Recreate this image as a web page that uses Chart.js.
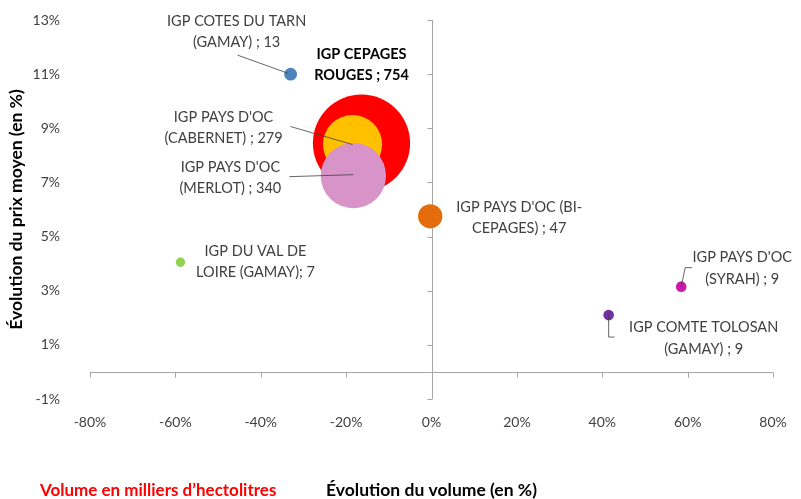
<!DOCTYPE html>
<html>
<head>
<meta charset="utf-8">
<script src="https://cdn.jsdelivr.net/npm/chart.js@4"></script>
<style>
html,body{margin:0;padding:0;background:#fff;}
#wrap{width:801px;height:499px;position:relative;}
</style>
</head>
<body>
<div id="wrap"><canvas id="c" width="801" height="499"></canvas></div>
<script>
// ---- data ----
const names = [
  ['IGP CEPAGES', 'ROUGES ; 754'],
  ['IGP PAYS D\'OC', '(CABERNET) ; 279'],
  ['IGP PAYS D\'OC', '(MERLOT) ; 340'],
  ['IGP COTES DU TARN', '(GAMAY) ; 13'],
  ['IGP PAYS D\'OC (BI-', 'CEPAGES) ; 47'],
  ['IGP DU VAL DE', 'LOIRE (GAMAY); 7'],
  ['IGP PAYS D\'OC', '(SYRAH) ; 9'],
  ['IGP COMTE TOLOSAN', '(GAMAY) ; 9']
];
const volumeChange = [-16.4, -18.5, -18.3, -33.0, -0.3, -58.8, 58.5, 41.5];   // % x
const priceChange  = [8.45, 8.4, 7.25, 11.0, 5.75, 4.05, 3.15, 2.1];         // % y
const volumes      = [754, 279, 340, 13, 47, 7, 9, 9];                        // milliers hl
const xTicks = [-80, -60, -40, -20, 0, 20, 40, 60, 80];
const yTicks = [-1, 1, 3, 5, 7, 9, 11, 13];

// ---- styles ----
const colors = ['#FF0000', '#FFC000', '#D893C8', '#4F81BD', '#E46C0A', '#92D050', '#C71BA8', '#7030A0'];
const FONT = 'Lato, "Open Sans", sans-serif';
// label placement relative to bubble centre: [dx, dyLine1, dyLine2, bold]
const labelPos = [
  [0, -89, -68, true],
  [-129, -27, -6, false],
  [-123, -8, 13, false],
  [-54, -53, -32, false],
  [89, -9, 12, false],
  [75, -11, 10, false],
  [61, -29, -7, false],
  [95, 12, 34, false]
];
// leader lines relative to bubble centre
const leaders = [
  null,
  [[-62, -18], [0, 0]],
  [[-64, 1], [0, -1]],
  [[-53, -19], [-3, -1]],
  null,
  null,
  [[11, -19], [4, -19], [0, 0]],
  [[0, 0], [0, 22], [6, 22]]
];

const points = volumeChange.map((x, i) => ({x: x, y: priceChange[i], v: volumes[i]}));

const crossAxes = {
  id: 'crossAxes',
  beforeDatasetsDraw(chart) {
    const {ctx, scales: {x, y}, chartArea: a} = chart;
    const x0 = Math.round(x.getPixelForValue(0)) + 0.5, y0 = Math.round(y.getPixelForValue(0)) + 0.5;
    ctx.save();
    ctx.strokeStyle = '#A6A6A6';
    ctx.lineWidth = 1;
    ctx.beginPath();
    ctx.moveTo(x0, a.top);
    ctx.lineTo(x0, a.bottom);
    yTicks.forEach(t => {
      const p = Math.round(y.getPixelForValue(t)) + 0.5;
      ctx.moveTo(x0 - 5, p);
      ctx.lineTo(x0, p);
    });
    ctx.moveTo(a.left, y0);
    ctx.lineTo(a.right, y0);
    xTicks.forEach(t => {
      const p = Math.round(x.getPixelForValue(t)) + 0.5;
      ctx.moveTo(p, y0);
      ctx.lineTo(p, y0 + 5);
    });
    ctx.stroke();
    ctx.restore();
  },
  afterDatasetsDraw(chart) {
    const {ctx} = chart;
    const meta = chart.getDatasetMeta(0);
    ctx.save();
    ctx.textAlign = 'center';
    ctx.textBaseline = 'middle';
    meta.data.forEach((el, i) => {
      const px = el.x, py = el.y;
      const lead = leaders[i];
      if (lead) {
        ctx.strokeStyle = '#404040';
        ctx.lineWidth = 0.8;
        ctx.beginPath();
        lead.forEach((p, j) => {
          if (j === 0) ctx.moveTo(px + p[0], py + p[1]);
          else ctx.lineTo(px + p[0], py + p[1]);
        });
        ctx.stroke();
      }
      const lp = labelPos[i];
      ctx.font = (lp[3] ? 'bold ' : '') + '14.5px ' + FONT;
      ctx.fillStyle = lp[3] ? '#000000' : '#404040';
      ctx.fillText(names[i][0], px + lp[0], py + lp[1]);
      ctx.fillText(names[i][1], px + lp[0], py + lp[2]);
    });
    // bubble-size note
    ctx.font = 'bold 17px ' + FONT;
    ctx.fillStyle = '#FF0000';
    ctx.textAlign = 'left';
    ctx.fillText('Volume en milliers d\u2019hectolitres', 40, 491);
    ctx.restore();
  }
};

new Chart(document.getElementById('c'), {
  type: 'bubble',
  data: {
    datasets: [{
      data: points,
      backgroundColor: colors,
      borderWidth: 0,
      radius: ctx => 1.77 * Math.sqrt(volumes[ctx.dataIndex]),
      hoverRadius: 0
    }]
  },
  options: {
    responsive: false,
    animation: false,
    devicePixelRatio: 1,
    layout: {autoPadding: false, padding: {top: 20, right: 28, left: 0, bottom: 0}},
    plugins: {legend: {display: false}, tooltip: {enabled: false}},
    scales: {
      x: {
        type: 'linear', min: -80, max: 80,
        grid: {display: false}, border: {display: false},
        afterFit: s => { s.height = 100; },
        afterBuildTicks: s => { s.ticks = xTicks.map(v => ({value: v})); },
        ticks: {
          padding: 7, color: '#404040',
          font: {family: FONT, size: 14},
          callback: v => v + '%'
        },
        title: {
          display: true, text: 'Évolution du volume (en %)', color: '#000',
          font: {family: FONT, size: 17.5, weight: 'bold', lineHeight: 1},
          padding: {top: 0, bottom: 0}
        }
      },
      y: {
        type: 'linear', min: -1, max: 13,
        grid: {display: false}, border: {display: false},
        afterFit: s => { s.width = 90; s.paddingTop = 8; s.paddingBottom = 8; },
        afterBuildTicks: s => { s.ticks = yTicks.map(v => ({value: v})); },
        ticks: {
          padding: 22, color: '#404040',
          font: {family: FONT, size: 14},
          callback: v => v + '%'
        },
        title: {
          display: true, text: 'Évolution du prix moyen (en %)', color: '#000',
          font: {family: FONT, size: 17.5, weight: 'bold', lineHeight: 1},
          padding: {top: 8, bottom: 0}
        }
      }
    }
  },
  plugins: [crossAxes]
});
</script>
</body>
</html>
